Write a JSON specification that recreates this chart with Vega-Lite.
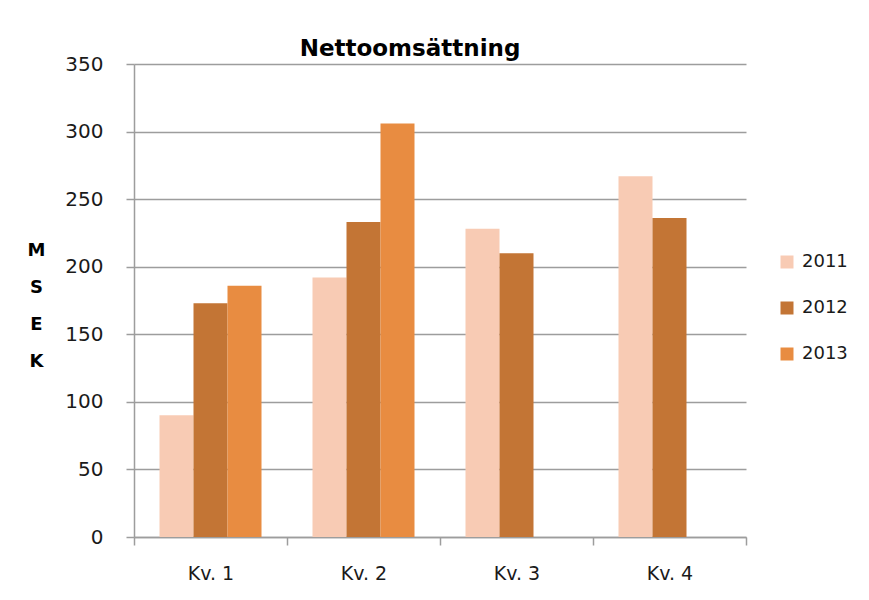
{
  "$schema": "https://vega.github.io/schema/vega-lite/v6.json",
  "autosize": "none",
  "width": 612,
  "height": 473,
  "padding": {"left": 134, "top": 64, "right": 123, "bottom": 63},
  "background": "white",
  "title": {
    "text": "Nettoomsättning",
    "font": "DejaVu Sans",
    "fontSize": 23,
    "fontWeight": "bold",
    "color": "#000000",
    "anchor": "middle",
    "frame": "group",
    "dx": -30,
    "dy": 32,
    "baseline": "alphabetic",
    "offset": 7
  },
  "data": {
    "values": [
      {"kvartal": "Kv. 1", "ar": "2011", "msek": 90},
      {"kvartal": "Kv. 1", "ar": "2012", "msek": 173},
      {"kvartal": "Kv. 1", "ar": "2013", "msek": 186},
      {"kvartal": "Kv. 2", "ar": "2011", "msek": 192},
      {"kvartal": "Kv. 2", "ar": "2012", "msek": 233},
      {"kvartal": "Kv. 2", "ar": "2013", "msek": 306},
      {"kvartal": "Kv. 3", "ar": "2011", "msek": 228},
      {"kvartal": "Kv. 3", "ar": "2012", "msek": 210},
      {"kvartal": "Kv. 4", "ar": "2011", "msek": 267},
      {"kvartal": "Kv. 4", "ar": "2012", "msek": 236}
    ]
  },
  "mark": {"type": "bar"},
  "encoding": {
    "x": {
      "field": "kvartal",
      "type": "nominal",
      "sort": ["Kv. 1", "Kv. 2", "Kv. 3", "Kv. 4"],
      "scale": {"paddingInner": 0, "paddingOuter": 0},
      "axis": {
        "title": null,
        "labelAngle": 0,
        "tickBand": "extent",
        "tickSize": 8,
        "labelPadding": 19,
        "labelFont": "DejaVu Sans",
        "labelFontSize": 19,
        "labelColor": "#1a1a1a",
        "domainColor": "#9d9d9d",
        "domainWidth": 1.5,
        "tickColor": "#9d9d9d",
        "tickWidth": 1.5,
        "grid": false
      }
    },
    "xOffset": {
      "field": "ar",
      "type": "nominal",
      "scale": {"domain": ["2011", "2012", "2013"], "paddingInner": 0, "paddingOuter": 0.75}
    },
    "y": {
      "field": "msek",
      "type": "quantitative",
      "scale": {"domain": [0, 350], "nice": false},
      "axis": {
        "values": [0, 50, 100, 150, 200, 250, 300, 350],
        "title": ["M", "S", "E", "K"],
        "titleAngle": 0,
        "titleFont": "DejaVu Sans",
        "titleFontSize": 18,
        "titleFontWeight": "bold",
        "titleColor": "#000000",
        "titleLineHeight": 37,
        "titleAlign": "center",
        "titleBaseline": "middle",
        "titleX": -98,
        "titleY": 186,
        "tickSize": 8,
        "labelPadding": 23,
        "labelFont": "DejaVu Sans",
        "labelFontSize": 20,
        "labelColor": "#1a1a1a",
        "domainColor": "#9d9d9d",
        "domainWidth": 1.5,
        "tickColor": "#9d9d9d",
        "tickWidth": 1.5,
        "gridColor": "#9d9d9d",
        "gridWidth": 1.5
      }
    },
    "color": {
      "field": "ar",
      "type": "nominal",
      "scale": {"domain": ["2011", "2012", "2013"], "range": ["#F8CBB4", "#C37535", "#E88C41"]},
      "legend": {
        "title": null,
        "orient": "none",
        "legendX": 644,
        "legendY": 189,
        "symbolType": "square",
        "symbolSize": 169,
        "symbolStrokeWidth": 0,
        "labelFont": "DejaVu Sans",
        "labelFontSize": 18,
        "labelColor": "#1a1a1a",
        "labelOffset": 6,
        "rowPadding": 28
      }
    }
  },
  "config": {"view": {"stroke": null}}
}
